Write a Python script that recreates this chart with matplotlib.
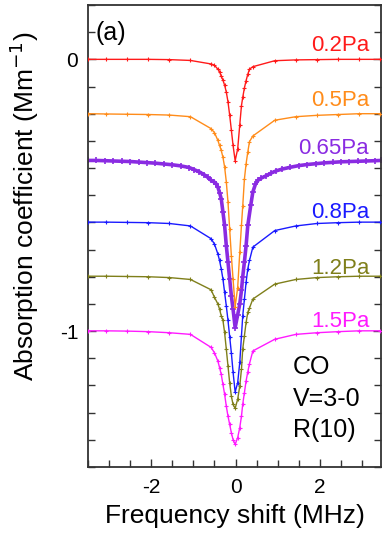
import numpy as np
import matplotlib
matplotlib.use("Agg")
import matplotlib.pyplot as plt
from matplotlib.ticker import MultipleLocator, FixedLocator

plt.rcParams['font.family'] = ['Liberation Sans', 'DejaVu Sans']
plt.rcParams['mathtext.default'] = 'regular'
plt.rcParams['axes.unicode_minus'] = False

# frequency grid shared by the sparse scans (MHz)
freq = [-3.5, -3.07, -2.57, -2.07, -1.57, -1.07, -0.58, -0.5, -0.42, -0.38, -0.34,
        -0.3, -0.26, -0.22, -0.18, -0.14, -0.1, -0.06, -0.01, 0.05, 0.1, 0.14, 0.17,
        0.21, 0.25, 0.29, 0.33, 0.41, 0.93, 1.43, 1.93, 2.43, 2.93, 3.43]

abs_02 = [0.0, 0.0, 0.0, 0.0, -0.001, -0.004, -0.017, -0.022, -0.036, -0.045, -0.062,
          -0.076, -0.095, -0.12, -0.156, -0.205, -0.26, -0.316, -0.373, -0.33, -0.24, -0.17, -0.14,
          -0.105, -0.078, -0.055, -0.036, -0.027, -0.005, -0.002, -0.001, 0.0, 0.0, 0.0]

abs_05 = [-0.2, -0.201, -0.202, -0.203, -0.205, -0.211, -0.255, -0.27, -0.298, -0.317, -0.335,
          -0.36, -0.396, -0.45, -0.525, -0.624, -0.722, -0.808, -0.91, -0.84, -0.71, -0.61, -0.54,
          -0.44, -0.384, -0.341, -0.303, -0.282, -0.224, -0.211, -0.206, -0.203, -0.2, -0.2]

abs_08 = [-0.599, -0.599, -0.6, -0.601, -0.604, -0.613, -0.66, -0.68, -0.716, -0.74, -0.771,
          -0.808, -0.857, -0.907, -0.96, -1.02, -1.08, -1.15, -1.224, -1.19, -1.115, -1.017, -0.944,
          -0.882, -0.82, -0.771, -0.74, -0.691, -0.63, -0.613, -0.604, -0.601, -0.599, -0.599]

abs_12 = [-0.798, -0.798, -0.799, -0.8, -0.803, -0.81, -0.848, -0.876, -0.9, -0.919, -0.944,
          -0.96, -1.005, -1.066, -1.128, -1.19, -1.239, -1.27, -1.284, -1.251, -1.202, -1.14, -1.066,
          -1.017, -0.968, -0.931, -0.915, -0.882, -0.827, -0.81, -0.803, -0.8, -0.798, -0.798]

abs_15 = [-0.999, -0.999, -1.0, -1.002, -1.006, -1.012, -1.06, -1.08, -1.11, -1.134, -1.159,
          -1.196, -1.232, -1.276, -1.313, -1.343, -1.374, -1.399, -1.417, -1.392, -1.355, -1.313, -1.269,
          -1.226, -1.183, -1.15, -1.12, -1.073, -1.03, -1.012, -1.006, -1.002, -0.999, -0.999]

# the 0.65 Pa scan is sampled much more densely
freq_065 = [-3.5, -3.3, -3.1, -2.9, -2.7, -2.5, -2.3, -2.1, -1.9, -1.7, -1.5, -1.3, -1.1,
            -0.98, -0.86, -0.74, -0.66, -0.58, -0.5, -0.46, -0.42, -0.38, -0.34, -0.3, -0.26,
            -0.22, -0.18, -0.14, -0.1, -0.06, -0.01, 0.05, 0.1, 0.14, 0.17, 0.21, 0.25, 0.29,
            0.36, 0.41, 0.47, 0.53, 0.61, 0.73, 0.85, 0.97, 1.1, 1.3, 1.5, 1.7, 1.9, 2.1, 2.3,
            2.5, 2.7, 2.9, 3.1, 3.3, 3.45]
abs_065 = [-0.372, -0.372, -0.373, -0.374, -0.375, -0.376, -0.378, -0.38, -0.382, -0.385, -0.388,
           -0.392, -0.398, -0.406, -0.414, -0.425, -0.434, -0.445, -0.452, -0.458, -0.47, -0.49,
           -0.513, -0.561, -0.611, -0.685, -0.746, -0.808, -0.87, -0.919, -0.987, -0.94, -0.9,
           -0.85, -0.8, -0.745, -0.685, -0.611, -0.537, -0.488, -0.46, -0.445, -0.437, -0.428,
           -0.418, -0.41, -0.404, -0.397, -0.391, -0.387, -0.384, -0.381, -0.379, -0.377, -0.376,
           -0.375, -0.374, -0.373, -0.372]

labels = ["0.2Pa", "0.5Pa", "0.65Pa", "0.8Pa", "1.2Pa", "1.5Pa"]
label_y = [0.052, -0.151, -0.328, -0.565, -0.768, -0.963]
colors = ["#ff1a1a", "#ff8c1a", "#8a2be2", "#1a1aff", "#7f7f1a", "#ff1aff"]

fig = plt.figure(figsize=(3.83, 5.38), dpi=100)
ax = fig.add_axes([0.2298, 0.132, 0.765, 0.8587])

sparse = [abs_02, abs_05, None, abs_08, abs_12, abs_15]
for i, ys in enumerate(sparse):
    if ys is None:
        ax.plot(freq_065, abs_065, color=colors[i], lw=2.6, marker='+', ms=4, mew=1.2,
                zorder=2)
    else:
        ax.plot(freq, ys, color=colors[i], lw=1.0, marker='+', ms=3.5, mew=0.8, zorder=3)
    ax.text(3.17, label_y[i], labels[i], color=colors[i], fontsize=16,
            ha='right', va='center')

ax.text(-3.33, 0.096, "(a)", fontsize=18, ha='left', va='center')
ax.text(1.36, -1.133, "CO", fontsize=18, ha='left', va='center')
ax.text(1.36, -1.251, "V=3-0", fontsize=18, ha='left', va='center')
ax.text(1.36, -1.365, "R(10)", fontsize=18, ha='left', va='center')

ax.set_xlim(-3.5, 3.45)
ax.set_ylim(-1.5, 0.2)
ax.xaxis.set_major_locator(MultipleLocator(2))
ax.xaxis.set_minor_locator(MultipleLocator(0.5))
ax.yaxis.set_major_locator(FixedLocator([-1, 0]))
ax.yaxis.set_minor_locator(MultipleLocator(0.1))
ax.tick_params(which='both', direction='in', right=True, top=False, width=1.0,
               labelsize=15, color='#333333')
ax.tick_params(which='major', length=6)
ax.tick_params(which='minor', length=5)
ax.tick_params(axis='y', pad=7)
ax.tick_params(axis='x', pad=8)
for s in ax.spines.values():
    s.set_linewidth(1.3)
    s.set_color('#333333')

ax.set_xlabel("Frequency shift (MHz)", fontsize=19, labelpad=5)
ax.set_ylabel("Absorption coefficient (Mm$^{\\mathsf{-1}}$)", fontsize=19)
ax.yaxis.set_label_coords(-0.16, 0.565)

fig.savefig("out.png", dpi=100)
